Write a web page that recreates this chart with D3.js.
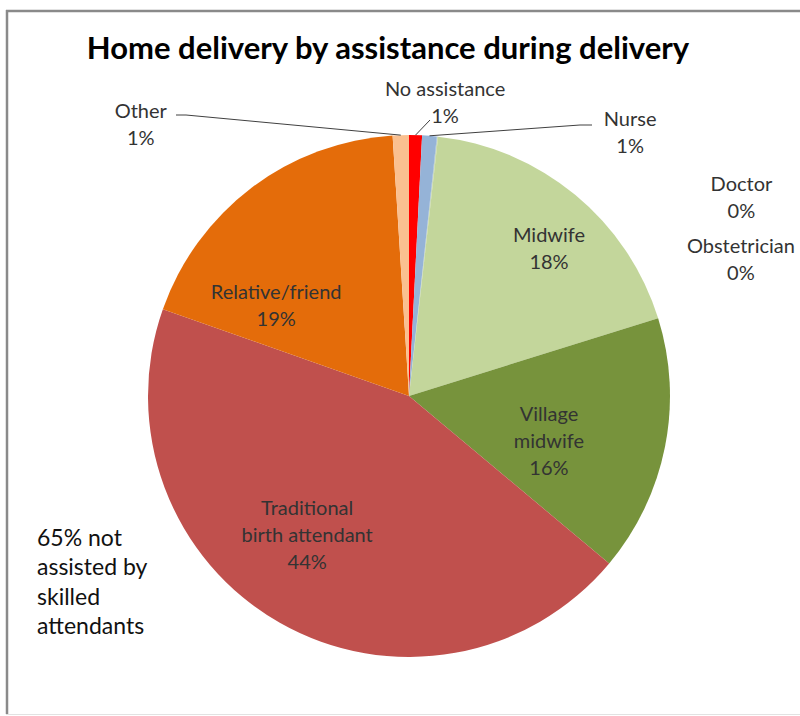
<!DOCTYPE html>
<html>
<head>
<meta charset="utf-8">
<script src="https://cdn.jsdelivr.net/npm/d3@7"></script>
<style>
  body { margin: 0; background: #fff; }
  text { font-family: Lato, "Open Sans", sans-serif; }
</style>
</head>
<body>
<div id="pie_chart"></div>
<script>
// slices, clockwise from 12 o'clock
var categories = ["No assistance", "Nurse", "Doctor", "Obstetrician", "Midwife",
                  "Village midwife", "Traditional birth attendant", "Relative/friend", "Other"];
var shares = [0.8, 0.9, 0.04, 0.04, 18.4, 15.9, 44.3, 18.6, 1.0];
var labelLines = [["No assistance"], ["Nurse"], ["Doctor"], ["Obstetrician"], ["Midwife"],
                  ["Village", "midwife"], ["Traditional", "birth attendant"], ["Relative/friend"], ["Other"]];
var colors = ["#ff0000", "#95b3d7", "#95b3d7", "#c3d69b", "#c3d69b",
              "#77933c", "#c0504d", "#e46c0a", "#fac090"];
var noteLines = ["65% not", "assisted by", "skilled", "attendants"];

// where each data label sits: [angle in degrees from 12 o'clock, distance from centre]
var labelAt = [[7, 296], [40, 344], [59.2, 387], [67.6, 359], [43.6, 203],
               [107.8, 147], [216.3, 172], [304.4, 161], [315.4, 382]];

var width = 800, height = 716;
var cx = 409, cy = 396, radius = 261;

var svg = d3.select("#pie_chart").append("svg")
    .attr("width", width)
    .attr("height", height);

// chart frame
svg.append("line")
    .attr("x1", 6).attr("y1", 11).attr("x2", width).attr("y2", 11)
    .style("stroke", "#8a8a8a").style("stroke-width", 2.5);
svg.append("line")
    .attr("x1", 7).attr("y1", 10).attr("x2", 7).attr("y2", 714)
    .style("stroke", "#8a8a8a").style("stroke-width", 2.5);
svg.append("line")
    .attr("x1", 6).attr("y1", 714.5).attr("x2", width).attr("y2", 714.5)
    .style("stroke", "#e2e2e2").style("stroke-width", 1);

svg.append("text")
    .attr("x", 388)
    .attr("y", 59)
    .style("text-anchor", "middle")
    .style("font-size", "31px")
    .style("font-weight", "bold")
    .style("fill", "#000")
    .text("Home delivery by assistance during delivery");

var data = categories.map(function(c, i) {
    return { name: c, value: shares[i], color: colors[i], lines: labelLines[i], at: labelAt[i] };
});
var total = d3.sum(shares);
var fmt = d3.format(".0%");

var pie = d3.pie()
    .sort(null)
    .value(function(d) { return d.value; });

var arc = d3.arc()
    .innerRadius(0)
    .outerRadius(radius);

var g = svg.append("g")
    .attr("transform", "translate(" + cx + "," + cy + ")");

var arcs = pie(data);

g.selectAll("path.slice")
    .data(arcs)
    .enter()
    .append("path")
    .attr("class", "slice")
    .attr("d", arc)
    .style("fill", function(d) { return d.data.color; });

function polar(deg, r) {
    var a = deg * Math.PI / 180;
    return [r * Math.sin(a), -r * Math.cos(a)];
}

function edge(d) {
    return polar((d.startAngle + d.endAngle) / 2 * 180 / Math.PI, radius);
}

// leader lines for the thin slices (from slice edge to label)
var leaders = {
    "No assistance": function(d) { return [edge(d), [21, -276]]; },
    "Nurse": function(d) { return [edge(d), [171, -271], [183, -271]]; },
    "Other": function(d) { return [edge(d), [-223, -281], [-233, -281]]; }
};

arcs.forEach(function(d) {
    if (leaders[d.data.name]) {
        g.append("path")
            .attr("d", d3.line()(leaders[d.data.name](d)))
            .style("fill", "none")
            .style("stroke", "#404040")
            .style("stroke-width", 1);
    }
});

var lineH = 27;
var labels = g.selectAll("text.lbl")
    .data(arcs)
    .enter()
    .append("text")
    .attr("class", "lbl")
    .style("text-anchor", "middle")
    .style("font-size", "20px")
    .style("fill", "#333")
    .attr("transform", function(d) {
        var p = polar(d.data.at[0], d.data.at[1]);
        var n = d.data.lines.length + 1;
        return "translate(" + p[0] + "," + (p[1] - (n - 1) * lineH / 2 + 7) + ")";
    });

labels.each(function(d) {
    var t = d3.select(this);
    var rows = d.data.lines.concat([fmt(d.data.value / total)]);
    rows.forEach(function(r, i) {
        t.append("tspan")
            .attr("x", 0)
            .attr("y", i * lineH)
            .text(r);
    });
});

var note = svg.append("text")
    .style("font-size", "23px")
    .style("fill", "#111");
noteLines.forEach(function(r, i) {
    note.append("tspan")
        .attr("x", 37)
        .attr("y", 546 + i * 29.3)
        .text(r);
});
</script>
</body>
</html>
